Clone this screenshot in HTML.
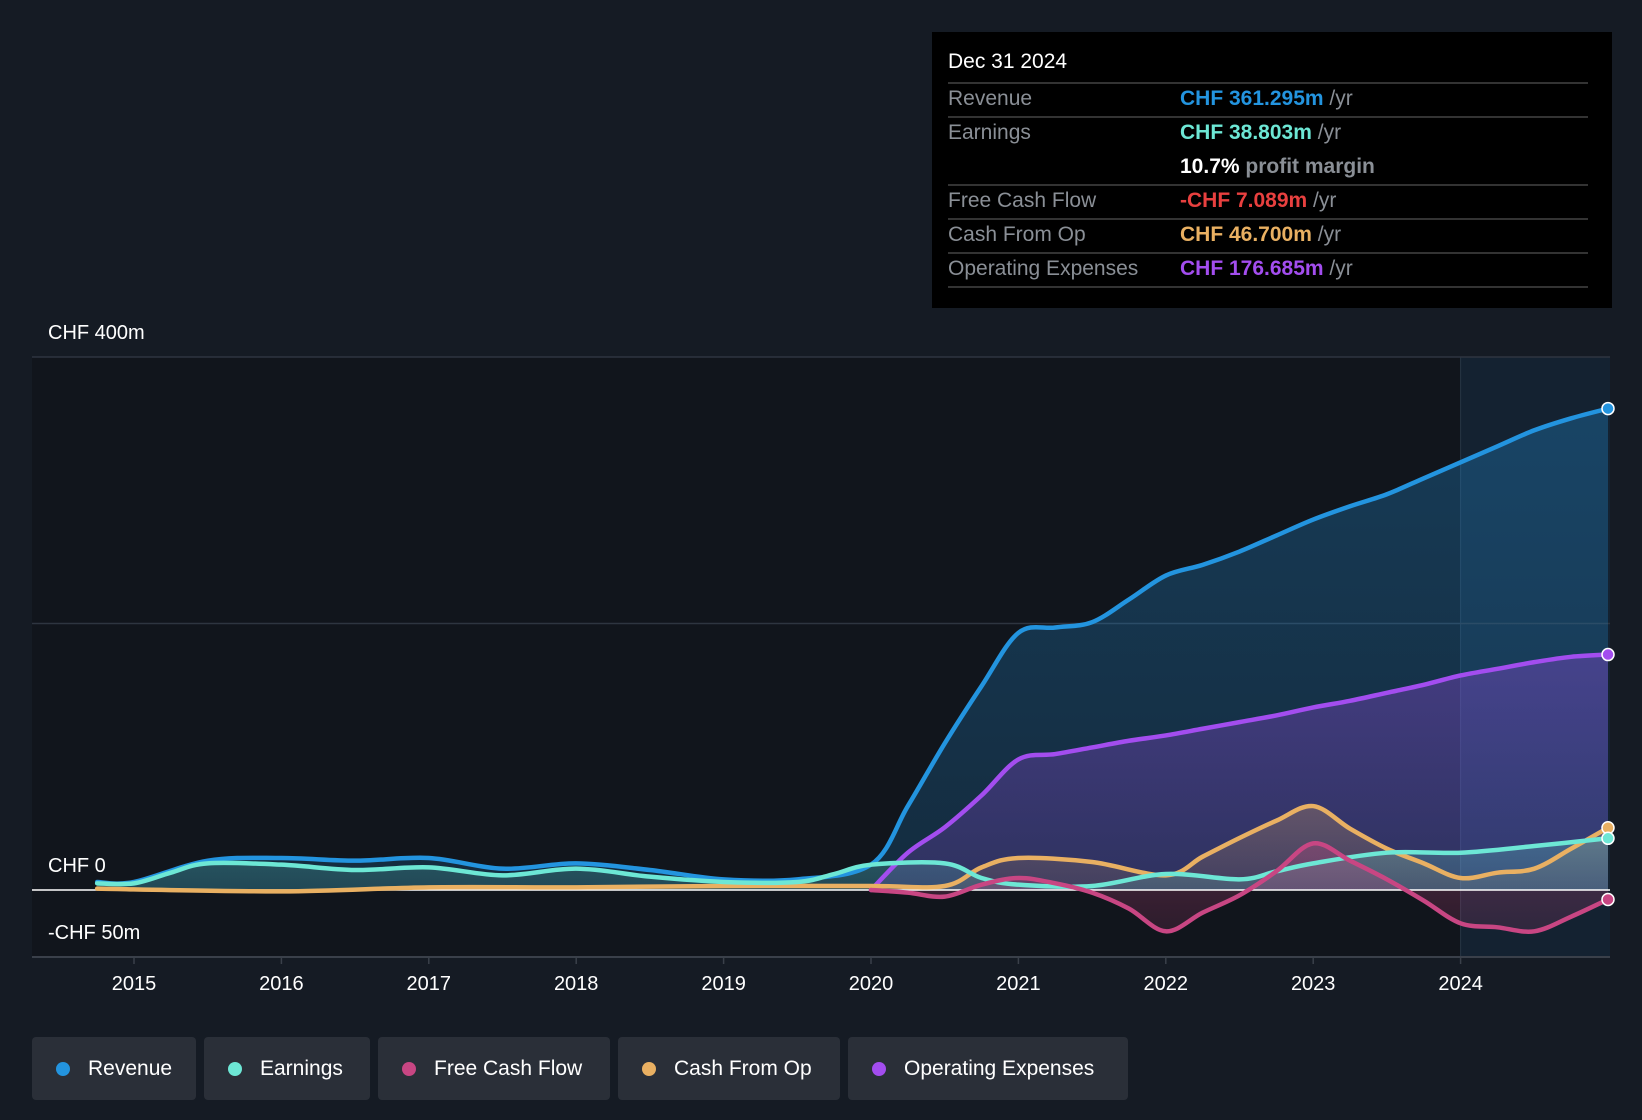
<!DOCTYPE html>
<html><head><meta charset="utf-8">
<style>
body{margin:0;background:#151b24;font-family:"Liberation Sans",sans-serif;}
#wrap{position:relative;width:1642px;height:1120px;overflow:hidden;background:#151b24;}
svg{position:absolute;left:0;top:0;}
.tt{position:absolute;left:932px;top:32px;width:680px;height:276px;background:#000;}
.tt .date{position:absolute;left:16px;top:18px;color:#fff;font-size:21px;}
.row{position:absolute;left:16px;width:640px;border-top:2px solid #333;height:32px;font-size:21px;}
.row .l{position:absolute;left:0;top:3px;color:#8a8f96;}
.row .v{position:absolute;left:232px;top:3px;font-weight:bold;}
.row .v span{color:#8a8f96;font-weight:normal;}
.legend{position:absolute;top:1037px;height:63px;background:#2a2f38;border-radius:4px;color:#fff;font-size:21px;line-height:63px;}
.legend i{position:absolute;left:24px;top:25px;width:14px;height:14px;border-radius:50%;}
.legend b{font-weight:normal;position:absolute;left:56px;}
</style></head><body>
<div id="wrap">
<svg id="chart" width="1642" height="1120"></svg>
<div class="tt">
<div class="date">Dec 31 2024</div>
<div class="row" style="top:50px"><div class="l">Revenue</div><div class="v" style="color:#2394df">CHF 361.295m <span>/yr</span></div></div>
<div class="row" style="top:84px;border-bottom:none;height:66px"><div class="l">Earnings</div><div class="v" style="color:#6de7d5">CHF 38.803m <span>/yr</span></div><div class="v" style="top:37px;color:#fff">10.7% <span style="font-weight:bold">profit margin</span></div></div>
<div class="row" style="top:152px"><div class="l">Free Cash Flow</div><div class="v" style="color:#e8403f">-CHF 7.089m <span>/yr</span></div></div>
<div class="row" style="top:186px"><div class="l">Cash From Op</div><div class="v" style="color:#e9b062">CHF 46.700m <span>/yr</span></div></div>
<div class="row" style="top:220px;border-bottom:2px solid #333;height:32px"><div class="l">Operating Expenses</div><div class="v" style="color:#a34def">CHF 176.685m <span>/yr</span></div></div>
</div>
<div class="legend" style="left:32px;width:164px"><i style="background:#2394df"></i><b>Revenue</b></div>
<div class="legend" style="left:204px;width:166px"><i style="background:#6de7d5"></i><b>Earnings</b></div>
<div class="legend" style="left:378px;width:232px"><i style="background:#c84683"></i><b>Free Cash Flow</b></div>
<div class="legend" style="left:618px;width:222px"><i style="background:#e9b062"></i><b>Cash From Op</b></div>
<div class="legend" style="left:848px;width:280px"><i style="background:#a34def"></i><b>Operating Expenses</b></div>
</div>
<script>
const yearTicks=[2015,2016,2017,2018,2019,2020,2021,2022,2023,2024];
const revT=[2014.75,2015,2015.5,2016,2016.5,2017,2017.5,2018,2018.5,2019,2019.5,2020,2020.25,2020.5,2020.75,2021,2021.25,2021.5,2021.75,2022,2022.25,2022.5,2022.75,2023,2023.25,2023.5,2023.75,2024,2024.25,2024.5,2024.75,2025];
const revV=[6,6,22,24,22,24,16,20,15,8,8,19,63,110,153,193,197,201,218,236,244,254,266,278,288,297,309,321,333,345,354,361.3];
const earnT=[2014.75,2015,2015.25,2015.5,2016,2016.5,2017,2017.5,2018,2018.5,2019,2019.5,2019.75,2020,2020.5,2020.75,2021,2021.5,2022,2022.5,2022.75,2023,2023.5,2024,2024.5,2025];
const earnV=[5,5,13,20,19,15,17,11,16,10,6,6,12,19,20,9,4,3,12,8,14,20,28,28,33,38.8];
const fcfT=[2020,2020.25,2020.5,2020.75,2021,2021.25,2021.5,2021.75,2022,2022.25,2022.5,2022.75,2023,2023.25,2023.5,2023.75,2024,2024.25,2024.5,2024.75,2025];
const fcfV=[0,-2,-5,4,9,5,-2,-14,-31,-17,-4,14,35,22,8,-8,-25,-28,-31,-20,-7.1];
const cfoT=[2014.75,2016,2017,2018,2019,2020,2020.5,2020.75,2021,2021.5,2022,2022.25,2022.5,2022.75,2023,2023.25,2023.5,2023.75,2024,2024.25,2024.5,2024.75,2025];
const cfoV=[1,-1,2,2,3,3,3,17,24,21,11,25,39,52,63,46,31,20,9,13,16,31,46.7];
const opxT=[2020,2020.25,2020.5,2020.75,2021,2021.25,2021.5,2021.75,2022,2022.25,2022.5,2022.75,2023,2023.25,2023.5,2023.75,2024,2024.25,2024.5,2024.75,2025];
const opxV=[0,28,47,71,98,102,107,112,116,121,126,131,137,142,148,154,161,166,171,175,176.7];

const NS='http://www.w3.org/2000/svg';
const svg=document.getElementById('chart');
const L=32,R=1610;
const xS=t=>134+(t-2015)*147.4;
const yS=v=>890-v*(533/400);
function el(tag,a,parent){const e=document.createElementNS(NS,tag);for(const k in a)e.setAttribute(k,a[k]);(parent||svg).appendChild(e);return e;}
const defs=el('defs',{});
function grad(id,c,o1,o2){const g=el('linearGradient',{id:id,x1:0,y1:0,x2:0,y2:1},defs);el('stop',{offset:0,'stop-color':c,'stop-opacity':o1},g);el('stop',{offset:1,'stop-color':c,'stop-opacity':o2},g);}
grad('gRev','#2394df',0.3,0.18);grad('gOpx','#a34def',0.33,0.18);grad('gEarn','#6de7d5',0.25,0.15);grad('gCfo','#e9b062',0.25,0.1);grad('gFcf','#c84683',0.3,0.15);

let r=el('rect',{x:L,y:357,width:xS(2024)-L,height:600,fill:'#11151c'});


r=el('rect',{x:xS(2024),y:357,width:R-xS(2024),height:600,fill:'#142231'});


let ln=el('line',{x1:xS(2024),x2:xS(2024),y1:357,y2:957,stroke:'#263545','stroke-width':1});


[400,200].forEach(v=>{const g=el('line',{x1:L,x2:R,y1:yS(v),y2:yS(v),stroke:'#2e3540','stroke-width':1.5});

});
let ax=el('line',{x1:L,x2:R,y1:957,y2:957,stroke:'#3a404a','stroke-width':2});


yearTicks.forEach(t=>{const tk=el('line',{x1:xS(t),x2:xS(t),y1:957,y2:964,stroke:'#3a404a','stroke-width':1.5});


const tx=el('text',{x:xS(t),y:990,fill:'#fff','font-size':20,'text-anchor':'middle','font-family':'Liberation Sans'});tx.textContent=t;

});
[['CHF 400m',yS(400)-18],['CHF 0',yS(0)-18],['-CHF 50m',939]].forEach(a=>{const tx=el('text',{x:48,y:a[1],fill:'#fff','font-size':20,'font-family':'Liberation Sans'});tx.textContent=a[0];

});

function pathD(T,V){const p=T.map((t,i)=>[xS(t),yS(V[i])]);let d='M'+p[0][0]+','+p[0][1];
for(let i=0;i<p.length-1;i++){const p0=p[i-1]||p[i],p1=p[i],p2=p[i+1],p3=p[i+2]||p2;
const c1=[p1[0]+(p2[0]-p0[0])/6,p1[1]+(p2[1]-p0[1])/6],c2=[p2[0]-(p3[0]-p1[0])/6,p2[1]-(p3[1]-p1[1])/6];
d+=' C'+c1+' '+c2+' '+p2;}return d;}
function series(name,T,V,color,g){const d=pathD(T,V);
const a=el('path',{d:d+' L'+xS(T[T.length-1])+','+yS(0)+' L'+xS(T[0])+','+yS(0)+'Z',fill:'url(#'+g+')'});


return ()=>{const l=el('path',{d:d,fill:'none',stroke:color,'stroke-width':4.5,'stroke-linecap':'round'});


const c=el('circle',{cx:xS(T[T.length-1]),cy:yS(V[V.length-1]),r:6,fill:color,stroke:'#fff','stroke-width':1.5});

};}
const ls=[series('revenue',revT,revV,'#2394df','gRev'),series('operating-expenses',opxT,opxV,'#a34def','gOpx'),series('cash-from-op',cfoT,cfoV,'#e9b062','gCfo'),series('earnings',earnT,earnV,'#6de7d5','gEarn'),series('free-cash-flow',fcfT,fcfV,'#c84683','gFcf')];
let z=el('line',{x1:L,x2:R,y1:yS(0),y2:yS(0),stroke:'#fff','stroke-width':1.5});


ls.forEach(f=>f());
</script>
</body></html>
